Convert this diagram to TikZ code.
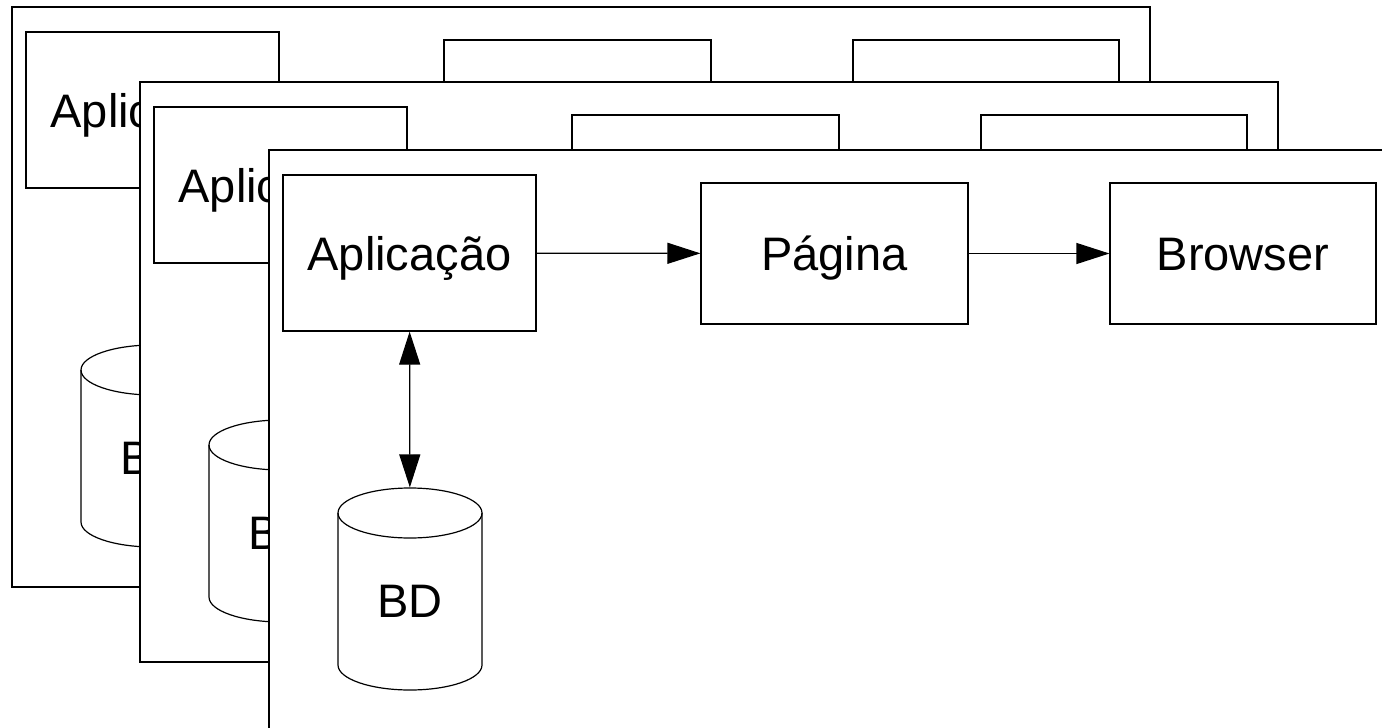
\documentclass[tikz,border=0pt]{standalone}
\usepackage{fontspec}
\setmainfont{Liberation Sans}
\usetikzlibrary{
        arrows.meta,
        positioning
    }
\tikzset{>={Triangle[length=33pt,width=21pt]},auto}
\tikzset{box/.style={draw,fill=white,inner sep=0pt,text height=36pt,text depth=2pt,
        font=\fontsize{47}{56}\selectfont}}
\tikzset{dblabel/.style={inner sep=0pt,minimum width=144pt,minimum height=202pt,
        text height=56pt,text depth=0pt,font=\fontsize{47}{56}\selectfont}}
\tikzset{dbcap/.style={x radius=72,y radius=25}}

\begin{document}
\begin{tikzpicture}[x=1pt,y=-1pt,line width=1.2pt]
        \clip (0,0) rectangle (1382,728);
        \foreach \dx/\dy/\n in {-257/-143/a,-129/-68/b,0/0/c}{
            \begin{scope}[shift={(\dx,\dy)}]
                \draw[fill=white] (269,150) rectangle (1407,730);
                \node[box,minimum width=253pt,minimum height=156pt] (app\n) at (409.5,253) {Aplicação};
                \node[box,minimum width=267pt,minimum height=141pt] (pag\n) at (834.5,253.5) {Página};
                \node[box,minimum width=266pt,minimum height=141pt] (bro\n) at (1243,253.5) {Browser};
                % cylinder of the database
                \coordinate (top\n) at (410,488);
                \draw[fill=white] (top\n) ++(-72,25) -- ++(0,152) arc[dbcap,start angle=180,end angle=0]
                    -- ++(0,-152) arc[dbcap,start angle=0,end angle=-180] -- cycle;
                \draw (top\n) ++(-72,25) arc[dbcap,start angle=180,end angle=0];
                \node[dblabel] (bd\n) at (410,589) {BD};
                \path[->]
                    (app\n) edge (pag\n)
                    (pag\n) edge (bro\n)
                ;
                \path[<->] (app\n) edge (bd\n);
            \end{scope}
        }
\end{tikzpicture}
\end{document}
